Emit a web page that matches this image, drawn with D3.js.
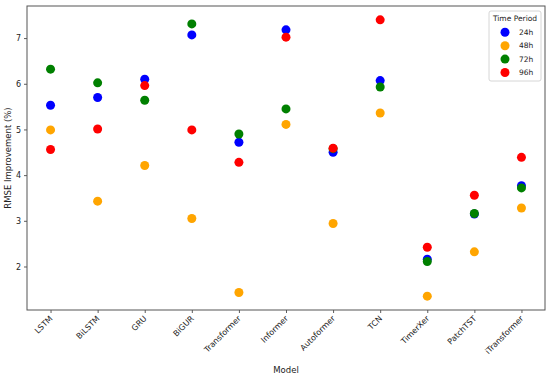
<!DOCTYPE html>
<html>
<head>
<meta charset="utf-8">
<script src="https://cdn.jsdelivr.net/npm/d3@7"></script>
<style>
body { margin: 0; background: #fff; }
text { font-family: "DejaVu Sans", sans-serif; fill: #222; }
</style>
</head>
<body>
<div id="chart"></div>
<script>
// chart data
var models = ['LSTM', 'BiLSTM', 'GRU', 'BiGUR', 'Transformer', 'Informer',
    'Autoformer', 'TCN', 'TimerXer', 'PatchTST', 'iTransformer'];
var periods = ['24h', '48h', '72h', '96h'];
var colors = ['blue', 'orange', 'green', 'red'];

var vals_24h = [5.53, 5.70, 6.10, 7.07, 4.72, 7.18, 4.50, 6.07, 2.16, 3.15, 3.77];
var vals_48h = [4.99, 3.43, 4.21, 3.05, 1.43, 5.11, 2.94, 5.36, 1.35, 2.32, 3.28];
var vals_72h = [6.32, 6.02, 5.64, 7.31, 4.90, 5.45, 4.58, 5.93, 2.11, 3.16, 3.72];
var vals_96h = [4.56, 5.01, 5.96, 4.99, 4.28, 7.02, 4.59, 7.40, 2.42, 3.56, 4.39];
var series = [vals_24h, vals_48h, vals_72h, vals_96h];

var y_ticks = [2, 3, 4, 5, 6, 7];

var width = 550;
var height = 378;
var plot_left = 27, plot_right = 545, plot_top = 6, plot_bottom = 310;

var svg = d3.select('#chart')
  .append('svg')
    .attr('width', width)
    .attr('height', height);

// matplotlib style 5% margins
var all_vals = d3.merge(series);
var y_min = d3.min(all_vals), y_max = d3.max(all_vals);
var pad = (y_max - y_min) * 0.05;

var x = d3.scaleLinear()
    .domain([-0.5, models.length - 0.5])
    .range([plot_left, plot_right]);
var y = d3.scaleLinear()
    .domain([y_min - pad, y_max + pad])
    .range([plot_bottom, plot_top]);

// y axis
var y_axis = svg.append('g')
    .attr('transform', 'translate(' + plot_left + ',0)')
    .call(d3.axisLeft(y).tickValues(y_ticks).tickSize(3).tickPadding(3)
        .tickFormat(d3.format('d')));
y_axis.select('.domain').remove();
y_axis.selectAll('text').attr('font-size', '8px').style('font-family', '"DejaVu Sans", sans-serif');
y_axis.selectAll('line').attr('stroke', '#333').attr('stroke-width', 0.8);

// x axis
var x_axis = svg.append('g')
    .attr('transform', 'translate(0,' + plot_bottom + ')')
    .call(d3.axisBottom(x).tickValues(d3.range(models.length)).tickSize(3)
        .tickFormat(function(d) { return models[d]; }));
x_axis.select('.domain').remove();
x_axis.selectAll('line').attr('stroke', '#333').attr('stroke-width', 0.8);
x_axis.selectAll('text')
    .attr('font-size', '8px')
    .style('font-family', '"DejaVu Sans", sans-serif')
    .style('text-anchor', 'end')
    .attr('x', 0)
    .attr('y', 0)
    .attr('dy', 0)
    .attr('transform', 'translate(2,9) rotate(-45)');

// frame
svg.append('rect')
    .attr('x', plot_left)
    .attr('y', plot_top)
    .attr('width', plot_right - plot_left)
    .attr('height', plot_bottom - plot_top)
    .attr('fill', 'none')
    .attr('stroke', '#555')
    .attr('stroke-width', 1);

// axis labels
svg.append('text')
    .text('Model')
    .attr('font-size', '8.5px')
    .style('text-anchor', 'middle')
    .attr('x', (plot_left + plot_right) / 2)
    .attr('y', 373);

svg.append('text')
    .text('RMSE Improvement (%)')
    .attr('font-size', '8.5px')
    .style('text-anchor', 'middle')
    .attr('transform', 'translate(11,' + ((plot_top + plot_bottom) / 2) + ') rotate(-90)');

// points
for (var s = 0; s < series.length; s++) {
    svg.append('g')
        .selectAll('circle')
        .data(series[s])
      .enter()
        .append('circle')
        .attr('fill', colors[s])
        .attr('cx', function(d, i) { return x(i); })
        .attr('cy', function(d) { return y(d); })
        .attr('r', 4.5);
}

// legend
var leg = svg.append('g');
leg.append('rect')
    .attr('x', 489)
    .attr('y', 11)
    .attr('width', 52)
    .attr('height', 70)
    .attr('rx', 2)
    .attr('fill', '#fff')
    .attr('stroke', '#ccc')
    .attr('stroke-width', 0.8);
leg.append('text')
    .text('Time Period')
    .attr('font-size', '7.5px')
    .style('text-anchor', 'middle')
    .attr('x', 515)
    .attr('y', 21);
leg.selectAll('circle')
    .data(periods)
  .enter()
    .append('circle')
    .attr('fill', function(d, i) { return colors[i]; })
    .attr('cx', 505)
    .attr('cy', function(d, i) { return 32.3 + i * 13.4; })
    .attr('r', 4.5);
leg.selectAll('text.legend')
    .data(periods)
  .enter()
    .append('text')
    .attr('class', 'legend')
    .text(function(d) { return d; })
    .attr('font-size', '7.5px')
    .attr('x', 519)
    .attr('y', function(d, i) { return 35 + i * 13.4; });
</script>
</body>
</html>
